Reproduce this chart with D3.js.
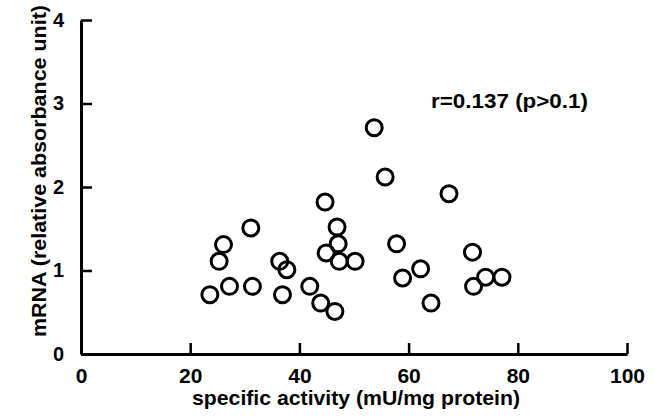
<!DOCTYPE html>
<html lang="en">
<head>
    <meta charset="UTF-8">
    <title>mRNA vs specific activity</title>
    <script src="https://cdnjs.cloudflare.com/ajax/libs/d3/7.8.5/d3.min.js"></script>
    <style>
        body { margin: 0; background: #fff; }
        text { font-family: "Liberation Sans", Arial, sans-serif; font-weight: bold; fill: #000; }
        .axis path, .axis line { stroke: #000; }
        .axis path { stroke-width: 3px; }
        .axis line { stroke-width: 2.5px; }
        .dot { fill: none; stroke: #000; stroke-width: 3px; }
    </style>
</head>
<body>
    <div id="chart"></div>

    <script>
        // values
        const activity = [23.6, 25.3, 26.1, 27.2, 31.1, 31.4, 36.4, 36.9, 37.7, 41.9,
                          43.9, 44.7, 44.9, 46.5, 46.9, 47.1, 47.3, 50.2, 53.7, 55.7,
                          57.8, 58.9, 62.2, 64.1, 67.4, 71.7, 71.9, 74.1, 77.1];
        const mrna = [0.71, 1.11, 1.31, 0.81, 1.51, 0.81, 1.11, 0.71, 1.01, 0.81,
                      0.61, 1.82, 1.21, 0.51, 1.52, 1.32, 1.11, 1.11, 2.71, 2.12,
                      1.32, 0.91, 1.02, 0.61, 1.92, 1.22, 0.81, 0.92, 0.92];
        const xTicks = [0, 20, 40, 60, 80, 100];
        const yTicks = [0, 1, 2, 3, 4];
        const xTitle = "specific activity (mU/mg protein)";
        const yTitle = "mRNA (relative absorbance unit)";
        const note = "r=0.137 (p>0.1)";

        const width = 655;
        const height = 418;

        const svg = d3.select("#chart").append("svg")
            .attr("width", width)
            .attr("height", height);

        const x = d3.scaleLinear().domain([0, 100]).range([81, 627]);
        const y = d3.scaleLinear().domain([0, 4]).range([354, 20]);

        // x axis, ticks point inward
        const gx = svg.append("g")
            .attr("class", "axis")
            .attr("transform", `translate(0,${y(0)})`)
            .call(d3.axisBottom(x).tickValues(xTicks).tickFormat(d3.format("d"))
                .tickSizeInner(-11).tickSizeOuter(0).tickPadding(14));
        gx.selectAll("text").attr("font-size", 21).attr("font-family", null);

        // y axis
        const gy = svg.append("g")
            .attr("class", "axis")
            .attr("transform", `translate(${x(0)},0)`)
            .call(d3.axisLeft(y).tickValues(yTicks).tickFormat(d3.format("d"))
                .tickSizeInner(-11).tickSizeOuter(0).tickPadding(17));
        gy.selectAll("text").attr("font-size", 20).attr("font-family", null);

        // axis titles
        svg.append("text")
            .attr("x", 356)
            .attr("y", 405)
            .attr("text-anchor", "middle")
            .attr("font-size", 21)
            .attr("textLength", 328)
            .attr("lengthAdjust", "spacingAndGlyphs")
            .text(xTitle);

        svg.append("text")
            .attr("transform", "translate(46,171) rotate(-90)")
            .attr("text-anchor", "middle")
            .attr("font-size", 21)
            .attr("textLength", 332)
            .attr("lengthAdjust", "spacingAndGlyphs")
            .text(yTitle);

        // correlation note
        svg.append("text")
            .attr("x", 431)
            .attr("y", 108)
            .attr("font-size", 20)
            .attr("textLength", 157)
            .attr("lengthAdjust", "spacingAndGlyphs")
            .text(note);

        // points
        svg.selectAll(".dot")
            .data(d3.zip(activity, mrna))
            .join("circle")
            .attr("class", "dot")
            .attr("cx", d => x(d[0]))
            .attr("cy", d => y(d[1]))
            .attr("r", 8);
    </script>
</body>
</html>
